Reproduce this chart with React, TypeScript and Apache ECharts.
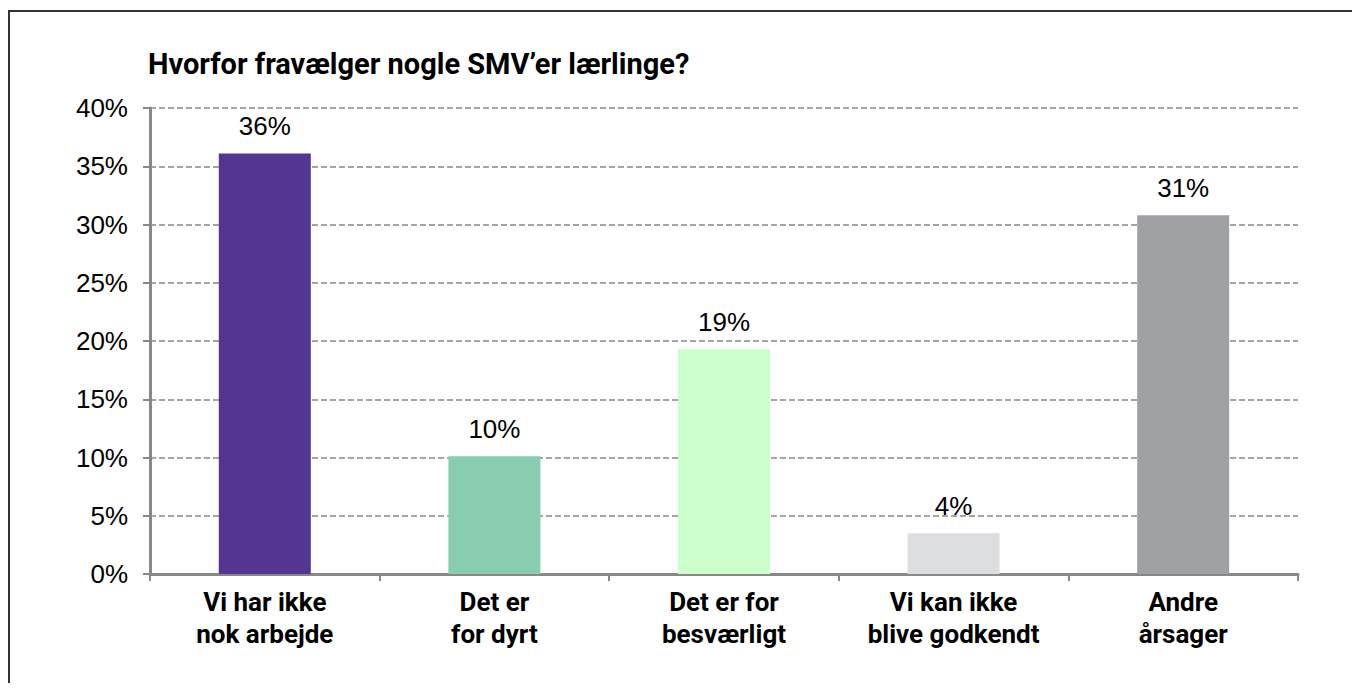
import React, { useEffect, useRef } from "react";
import * as echarts from "echarts";

const categories = [
  "Vi har ikke\nnok arbejde",
  "Det er\nfor dyrt",
  "Det er for\nbesværligt",
  "Vi kan ikke\nblive godkendt",
  "Andre\nårsager",
];
const values = [36.1, 10.1, 19.3, 3.5, 30.8];
const labels = ["36%", "10%", "19%", "4%", "31%"];
const colors = ["#553592", "#88CDB0", "#CCFFCC", "#DCDDDF", "#A0A1A5"];
const title = "Hvorfor fravælger nogle SMV’er lærlinge?";

export default function App() {
  const ref = useRef<HTMLDivElement>(null);
  useEffect(() => {
    if (!ref.current) return;
    const chart = echarts.init(ref.current, undefined, { renderer: "svg" });
    chart.setOption({
      animation: false,
      title: {
        text: title,
        left: 133,
        top: 30,
        textStyle: {
          fontFamily: "Roboto",
          fontWeight: "bold",
          fontSize: 29,
          lineHeight: 34,
          color: "#000",
        },
      },
      grid: { left: 140, top: 96, width: 1148, height: 466 },
      xAxis: {
        type: "category",
        data: categories,
        axisLine: { lineStyle: { color: "#888", width: 3 } },
        axisTick: { show: true, length: 7, lineStyle: { color: "#888", width: 2 } },
        axisLabel: {
          margin: 12,
          interval: 0,
          fontFamily: "Roboto",
          fontWeight: "bold",
          fontSize: 26,
          lineHeight: 32,
          color: "#000",
        },
      },
      yAxis: {
        type: "value",
        min: 0,
        max: 40,
        interval: 5,
        axisLine: { show: true, lineStyle: { color: "#888", width: 3 } },
        axisTick: { show: true, length: 7, lineStyle: { color: "#888", width: 2 } },
        axisLabel: {
          margin: 22,
          formatter: "{value}%",
          fontFamily: "Liberation Sans",
          fontSize: 26,
          color: "#000",
        },
        splitLine: { lineStyle: { color: "#888", type: [6, 3], width: 1.5 } },
      },
      series: [
        {
          type: "bar",
          barWidth: 92,
          data: values.map((v, i) => ({ value: v, itemStyle: { color: colors[i] } })),
          label: {
            show: true,
            position: "top",
            distance: 14,
            formatter: (p: any) => labels[p.dataIndex],
            fontFamily: "Liberation Sans",
            fontSize: 26,
            color: "#000",
          },
        },
      ],
    });
    return () => chart.dispose();
  }, []);
  return (
    <div
      style={{
        marginTop: 2,
        width: 1352,
        height: 673,
        borderTop: "2px solid #333",
        borderLeft: "2px solid #333",
        boxSizing: "border-box",
      }}
    >
      <div ref={ref} style={{ width: 1350, height: 671 }} />
    </div>
  );
}
